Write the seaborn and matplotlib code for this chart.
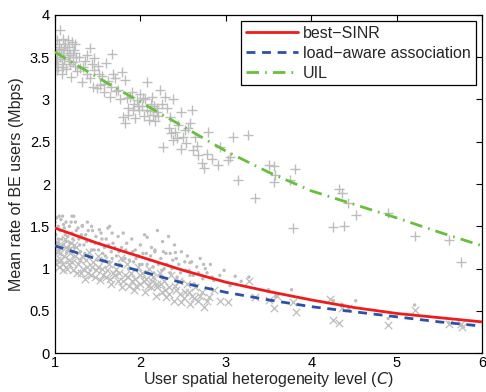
import seaborn as sns
import pandas as pd
import matplotlib.pyplot as plt

# mean-rate curves
c_grid = [1.0, 1.5, 2.0, 2.5, 3.0, 3.5, 4.0, 4.5, 5.0, 5.5, 6.0]
best_sinr = [1.48, 1.30, 1.14, 0.98, 0.84, 0.73, 0.63, 0.54, 0.47, 0.42, 0.37]
load_aware = [1.27, 1.11, 0.97, 0.83, 0.72, 0.63, 0.55, 0.49, 0.43, 0.37, 0.32]
uil = [3.56, 3.26, 2.97, 2.68, 2.39, 2.14, 1.92, 1.76, 1.60, 1.43, 1.27]

# per-realisation samples, UIL ('+')
uil_pts_x = [1.00, 1.01, 1.02, 1.03, 1.04, 1.05, 1.06, 1.06, 1.07, 1.08, 1.09, 1.10, 1.11, 1.12, 1.13,
             1.14, 1.15, 1.16, 1.17, 1.18, 1.19, 1.20, 1.21, 1.22, 1.23, 1.24, 1.25, 1.02, 1.08, 1.26,
             1.29, 1.32, 1.35, 1.38, 1.41, 1.41, 1.44, 1.46, 1.46, 1.49, 1.50, 1.53, 1.55, 1.57, 1.60,
             1.62, 1.64, 1.67, 1.68,
             1.72, 1.74, 1.76, 1.78, 1.80, 1.82, 1.82, 1.84, 1.86, 1.88, 1.90, 1.92, 1.94, 1.96, 1.98,
             2.00, 2.02, 2.04, 2.06, 2.08, 2.08, 2.10, 2.12, 2.14, 2.15, 2.17, 2.19, 2.21, 2.23, 2.25,
             2.27, 2.29, 2.31, 2.33, 2.35, 2.38, 2.38, 2.41, 2.44, 2.47, 2.47, 2.50, 2.53, 2.56, 2.58,
             2.60, 2.62, 2.64, 2.68, 2.72, 2.74, 2.78, 2.79, 2.84, 2.91, 2.93, 3.02, 3.05, 3.09, 3.14,
             3.26, 3.34, 3.50, 3.56, 3.58, 3.56, 3.81, 3.75, 3.79, 4.32, 4.36, 4.43, 4.26, 4.38, 4.52,
             4.90, 5.21, 5.61, 5.75,
             1.03, 1.05, 1.09, 1.11, 1.15, 1.18, 1.21, 1.28, 1.33, 1.37, 1.43, 1.52, 1.58, 1.66, 1.70,
             1.85, 1.91, 1.97, 2.03, 2.11, 2.16, 2.20, 2.36, 2.43, 2.52, 2.66]
uil_pts_y = [3.62, 3.45, 3.70, 3.55, 3.38, 3.66, 3.82, 3.50, 3.60, 3.42, 3.72, 3.55, 3.48, 3.65, 3.36,
             3.58, 3.70, 3.46, 3.62, 3.52, 3.27, 3.68, 3.44, 3.58, 3.40, 3.66, 3.50, 3.35, 3.30, 3.34,
             3.37, 3.21, 3.45, 3.30, 3.61, 3.25, 3.15, 3.49, 3.35, 3.13, 3.40, 3.17, 3.28, 3.09, 3.43,
             3.22, 3.03, 3.54, 3.30,
             3.10, 3.11, 3.00, 3.33, 2.79, 3.23, 2.72, 3.02, 2.90, 3.03, 3.09, 2.95, 2.78, 2.99, 2.87,
             3.07, 2.92, 2.80, 3.00, 3.21, 2.88, 2.76, 2.95, 3.03, 2.82, 2.74, 2.90, 2.80, 3.11, 2.95,
             2.44, 3.03, 2.90, 2.66, 2.79, 3.01, 2.52, 2.62, 2.70, 2.85, 2.42, 2.56, 2.48, 2.66, 2.72,
             2.88, 2.40, 2.56, 2.34, 2.25, 2.19, 2.36, 2.62, 2.30, 2.22, 2.44, 2.28, 2.32, 2.56, 2.05,
             2.58, 1.83, 2.22, 2.21, 2.11, 2.02, 2.18, 2.05, 1.48, 1.94, 1.90, 1.77, 1.49, 1.50, 1.63,
             1.66, 1.38, 1.34, 1.08,
             3.48, 3.58, 3.38, 3.62, 3.50, 3.42, 3.55, 3.50, 3.38, 3.52, 3.42, 3.30, 3.18, 3.15, 3.25,
             2.82, 2.88, 2.92, 3.02, 2.86, 2.92, 2.85, 2.60, 2.55, 2.64, 2.45]

# best-SINR samples (dots)
sinr_pts_x = [1.00, 1.01, 1.02, 1.03, 1.04, 1.05, 1.06, 1.07, 1.08, 1.09, 1.10, 1.11, 1.12, 1.13, 1.14,
              1.15, 1.17, 1.18, 1.20, 1.22, 1.23, 1.25,
              1.28, 1.30, 1.32, 1.34, 1.36, 1.38, 1.40, 1.42, 1.44, 1.46, 1.48, 1.50, 1.52, 1.54, 1.56,
              1.58, 1.60, 1.62, 1.64, 1.66, 1.68,
              1.72, 1.74, 1.76, 1.78, 1.80, 1.82, 1.84, 1.86, 1.88, 1.90, 1.92, 1.94, 1.96, 1.98, 2.00,
              2.02, 2.05, 2.07, 2.09, 2.11, 2.13, 2.15, 2.17, 2.20, 2.22, 2.24, 2.26,
              2.28, 2.30, 2.33, 2.35, 2.38, 2.40, 2.43, 2.45, 2.48, 2.50, 2.53, 2.55, 2.58, 2.60, 2.63,
              2.66, 2.70, 2.73, 2.78, 2.82, 2.86, 2.93, 2.98, 3.05, 3.11, 3.18,
              3.27, 3.50, 3.58, 3.61, 3.77, 4.26, 4.36, 4.52, 4.90, 5.21, 5.61, 5.76,
              1.05, 1.20, 1.32, 1.43, 1.52, 1.64, 1.67, 2.08, 2.17, 2.27, 2.35, 2.41, 2.58, 2.74,
              1.01, 1.04, 1.07, 1.10, 1.13, 1.16, 1.19, 1.21, 1.24, 1.27, 1.29, 1.31, 1.35, 1.37, 1.39,
              1.43, 1.47, 1.51, 1.55, 1.59, 1.63, 1.67, 1.70, 1.75, 1.79, 1.83, 1.87, 1.91, 1.95, 1.99,
              2.03, 2.08, 2.12, 2.16, 2.21, 2.25, 2.31, 2.37, 2.42, 2.47, 2.52, 2.57, 2.62, 2.68, 2.76,
              2.84]
sinr_pts_y = [1.55, 1.40, 1.60, 1.30, 1.50, 1.22, 1.45, 1.58, 1.35, 1.62, 1.28, 1.48, 1.40, 1.55, 1.20,
              1.38, 1.50, 1.30, 1.42, 1.62, 1.25, 1.45,
              1.35, 1.20, 1.50, 1.28, 1.40, 1.55, 1.15, 1.32, 1.45, 1.22, 1.38, 1.10, 1.30, 1.42, 1.18,
              1.25, 1.35, 1.48, 1.08, 1.20, 1.30,
              1.15, 1.38, 1.05, 1.25, 1.42, 1.12, 1.30, 1.00, 1.18, 1.35, 1.08, 1.22, 0.98, 1.15, 1.28,
              1.05, 1.40, 1.18, 0.95, 1.10, 1.25, 1.02, 1.20, 1.45, 0.92, 1.12, 1.32,
              1.00, 1.18, 1.38, 0.95, 1.10, 1.28, 0.90, 1.05, 1.20, 0.85, 0.98, 1.15, 0.92, 1.08, 0.82,
              1.02, 1.12, 0.88, 0.95, 1.05, 0.86, 0.92, 0.98, 0.80, 0.91, 0.85,
              0.90, 0.75, 0.67, 0.70, 0.75, 0.62, 0.58, 0.62, 0.41, 0.57, 0.36, 0.33,
              1.62, 1.62, 1.51, 1.50, 1.46, 1.50, 1.42, 1.37, 1.22, 1.20, 1.18, 1.19, 1.07, 1.05,
              1.18, 1.35, 1.25, 1.52, 1.32, 1.25, 1.55, 1.35, 1.55, 1.48, 1.28, 1.40, 1.18, 1.32, 1.45,
              1.22, 1.30, 1.22, 1.35, 1.15, 1.28, 1.12, 1.25, 1.20, 1.10, 1.22, 1.10, 1.20, 1.12, 1.05,
              1.18, 1.05, 1.15, 0.95, 1.05, 0.98, 1.05, 1.00, 1.12, 0.95, 1.08, 0.98, 0.92, 0.95, 1.00,
              0.90]

# load-aware samples ('x')
load_pts_x = [1.00, 1.02, 1.03, 1.05, 1.06, 1.08, 1.09, 1.11, 1.12, 1.14, 1.15, 1.17, 1.19, 1.21, 1.23,
              1.25,
              1.27, 1.30, 1.32, 1.35, 1.37, 1.40, 1.42, 1.45, 1.48, 1.50, 1.53, 1.55, 1.58, 1.60, 1.63,
              1.66, 1.68,
              1.72, 1.74, 1.77, 1.79, 1.82, 1.84, 1.87, 1.89, 1.92, 1.94, 1.97, 2.00, 2.02, 2.05, 2.07,
              2.10, 2.12, 2.15, 2.18, 2.20, 2.23, 2.25,
              2.28, 2.30, 2.33, 2.36, 2.39, 2.42, 2.45, 2.48, 2.52, 2.55, 2.58, 2.61, 2.64, 2.68, 2.72,
              2.75, 2.80, 2.86, 2.93, 3.03,
              3.27, 3.34, 3.50, 3.57, 3.60, 3.79, 3.82, 4.22, 4.25, 4.33, 4.36, 4.43, 4.90, 5.21, 5.61,
              5.76, 5.75,
              1.01, 1.04, 1.07, 1.10, 1.13, 1.16, 1.18, 1.20, 1.22, 1.26, 1.29, 1.33, 1.36, 1.39, 1.43,
              1.47, 1.51, 1.56, 1.61, 1.65, 1.70, 1.75, 1.80, 1.85, 1.90, 1.95, 1.99, 2.04, 2.09, 2.14,
              2.19, 2.24, 2.29, 2.34, 2.40, 2.46, 2.51, 2.57, 2.63, 2.70, 2.78]
load_pts_y = [1.25, 1.10, 1.32, 1.02, 1.18, 1.28, 1.05, 1.15, 1.35, 1.00, 1.22, 1.10, 1.30, 0.98, 1.15,
              1.25,
              1.05, 0.95, 1.15, 0.88, 1.02, 1.20, 0.92, 1.08, 0.98, 1.15, 0.86, 1.00, 1.10, 0.90, 1.05,
              0.82, 0.95,
              1.00, 0.85, 1.12, 0.78, 0.92, 1.05, 0.80, 0.95, 0.75, 0.88, 1.02, 0.82, 0.95, 0.72, 0.88,
              1.00, 0.78, 0.90, 0.68, 0.82, 0.95, 0.72,
              0.85, 0.66, 0.78, 0.92, 0.62, 0.75, 0.85, 0.60, 0.72, 0.82, 0.58, 0.68, 0.78, 0.62, 0.72,
              0.55, 0.66, 0.75, 0.62, 0.60,
              0.85, 0.66, 0.63, 0.53, 0.68, 0.60, 0.49, 0.64, 0.39, 0.36, 0.53, 0.54, 0.33, 0.51, 0.34,
              0.31, 0.35,
              1.05, 1.20, 1.10, 0.98, 1.25, 1.05, 1.18, 1.08, 1.28, 0.95, 1.10, 1.00, 1.10, 0.95, 1.02,
              0.90, 1.02, 0.92, 0.98, 0.88, 0.92, 0.95, 0.85, 0.90, 0.85, 0.80, 0.92, 0.85, 0.80, 0.85,
              0.78, 0.82, 0.75, 0.70, 0.80, 0.70, 0.65, 0.72, 0.65, 0.68, 0.62]

curves = pd.DataFrame({'C': c_grid, 'best': best_sinr, 'load': load_aware, 'uil': uil})

sns.set_style('white')
plt.rcParams['font.family'] = ['Liberation Sans', 'DejaVu Sans']

fig, ax = plt.subplots(figsize=(4.86, 3.92), dpi=100)
fig.subplots_adjust(left=0.113, right=0.992, bottom=0.099, top=0.962)

grey = '#bdbdbd'
sns.scatterplot(x=uil_pts_x, y=uil_pts_y, marker='+', s=55, color=grey, linewidth=1.0, ax=ax, legend=False, zorder=1)
sns.scatterplot(x=load_pts_x, y=load_pts_y, marker='x', s=28, color=grey, linewidth=0.9, ax=ax, legend=False, zorder=1)
sns.scatterplot(x=sinr_pts_x, y=sinr_pts_y, marker='o', s=6, color=grey, edgecolor='none', ax=ax, legend=False, zorder=1)

sns.lineplot(data=curves, x='C', y='best', color='#ee1c1c', lw=2, label='best\u2212SINR', ax=ax, zorder=3)
sns.lineplot(data=curves, x='C', y='load', color='#2a52a5', lw=2, linestyle=(0, (3.2, 2.4)),
             label='load\u2212aware association', ax=ax, zorder=3)
sns.lineplot(data=curves, x='C', y='uil', color='#66c03c', lw=2, linestyle=(0, (4.5, 2.2, 0.6, 2.2)),
             label='UIL', ax=ax, zorder=3)

ax.set_xlim(1, 6)
ax.set_ylim(0, 4)
ax.set_xticks([1, 2, 3, 4, 5, 6])
ax.set_yticks([0, 0.5, 1, 1.5, 2, 2.5, 3, 3.5, 4])
ax.set_yticklabels(['0', '0.5', '1', '1.5', '2', '2.5', '3', '3.5', '4'])
ax.tick_params(direction='in', length=4, width=0.8, top=True, right=True, labelsize=10.5, colors='black')
ax.tick_params(axis='x', pad=2)
for sp in ax.spines.values():
    sp.set_color('black')
    sp.set_linewidth(0.9)

ax.set_xlabel('User spatial heterogeneity level ($\\it{C}$)', fontsize=11.5, labelpad=0)
ax.set_ylabel('Mean rate of BE users (Mbps)', fontsize=11.5, labelpad=4)

leg = ax.legend(loc='upper right', fontsize=11.5, handlelength=3.3, handletextpad=0.3,
                borderpad=0.3, labelspacing=0.3, borderaxespad=0.4, fancybox=False, framealpha=1)
leg.get_frame().set_edgecolor('black')
leg.get_frame().set_linewidth(0.9)

plt.savefig('out.png', dpi=100)
